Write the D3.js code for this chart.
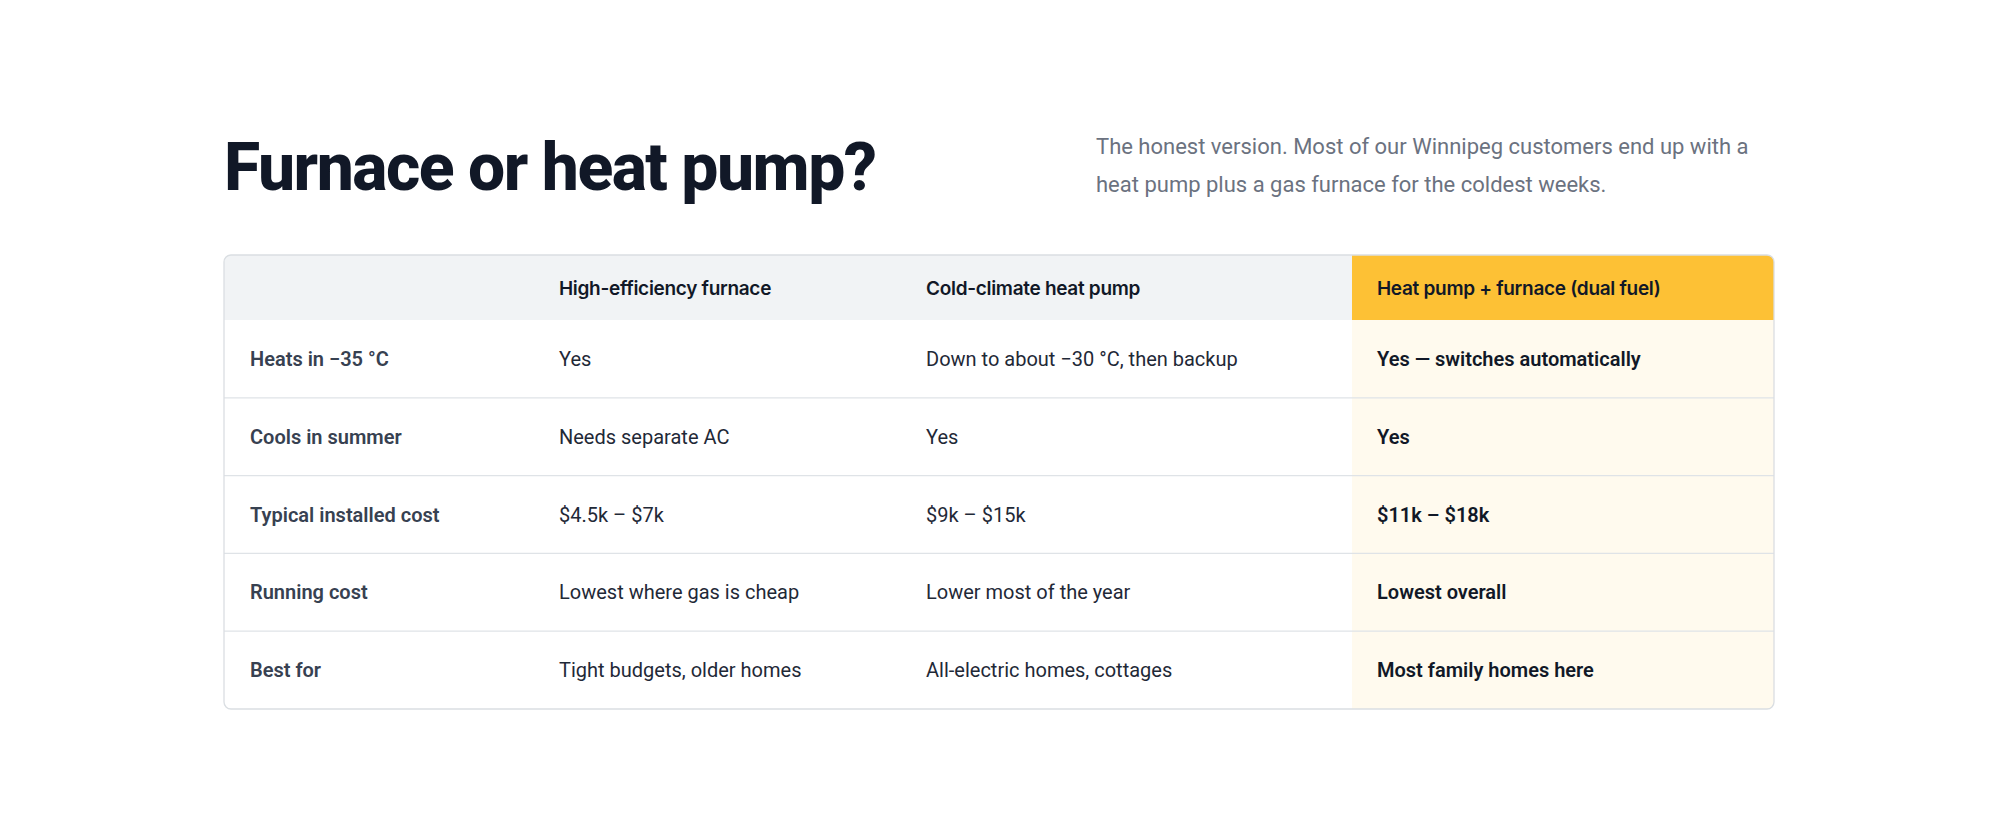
<!DOCTYPE html>
<html><head><meta charset="utf-8">
<script src="https://cdn.jsdelivr.net/npm/d3@7"></script>
<style>body{margin:0;background:#fff}</style>
</head><body>
<svg id="c" width="2000" height="839"></svg>
<script>
const columns = ["", "High-efficiency furnace", "Cold-climate heat pump", "Heat pump + furnace (dual fuel)"];
const rowLabels = ["Heats in \u221235 \u00b0C", "Cools in summer", "Typical installed cost", "Running cost", "Best for"];
const furnace = ["Yes", "Needs separate AC", "$4.5k \u2013 $7k", "Lowest where gas is cheap", "Tight budgets, older homes"];
const heatPump = ["Down to about \u221230 \u00b0C, then backup", "Yes", "$9k \u2013 $15k", "Lower most of the year", "All-electric homes, cottages"];
const dualFuel = ["Yes \u2014 switches automatically", "Yes", "$11k \u2013 $18k", "Lowest overall", "Most family homes here"];

const svg = d3.select("#c");
const L = 224, R = 1774, T = 255, HB = 320, B = 709;
const colEdges = [L, 534, 901, 1352, R];
const colX = d3.scaleOrdinal().domain(d3.range(4)).range(colEdges.slice(0, 4));
const y = d3.scaleBand().domain(d3.range(rowLabels.length)).range([HB, B]);
const font = "Roboto, 'Noto Sans', sans-serif";

// title + subtitle
const title = svg.append("text").attr("x", L).attr("y", 190)
  .attr("font-family", "Roboto").attr("font-weight", 800).attr("font-size", 66)
  .attr("letter-spacing", -1.5).attr("fill", "#111827").text("Furnace or heat pump?");
const tw = title.node().getComputedTextLength();
if (tw > 675) title.attr("textLength", 675).attr("lengthAdjust", "spacingAndGlyphs");

svg.selectAll(".sub").data(["The honest version. Most of our Winnipeg customers end up with a",
  "heat pump plus a gas furnace for the coldest weeks."]).join("text")
  .attr("x", 1096).attr("y", (d, i) => 154 + i * 38)
  .attr("font-family", font).attr("font-size", 22).attr("fill", "#6b7280").text(d => d);

// table frame
const clip = svg.append("defs").append("clipPath").attr("id", "tb");
clip.append("rect").attr("x", L).attr("y", T).attr("width", R - L).attr("height", B - T).attr("rx", 7);
const g = svg.append("g").attr("clip-path", "url(#tb)");
g.append("rect").attr("x", L).attr("y", T).attr("width", R - L).attr("height", HB - T).attr("fill", "#f1f3f5");
g.append("rect").attr("x", colX(3)).attr("y", T).attr("width", R - colX(3)).attr("height", HB - T).attr("fill", "#fdc135");
g.append("rect").attr("x", colX(3)).attr("y", HB).attr("width", R - colX(3)).attr("height", B - HB).attr("fill", "#fffaee");
g.selectAll(".rl").data(d3.range(1, rowLabels.length)).join("line")
  .attr("x1", L).attr("x2", R).attr("y1", d => y(d)).attr("y2", d => y(d))
  .attr("stroke", "#dfe3e7").attr("stroke-width", 1.3);
svg.append("rect").attr("x", L).attr("y", T).attr("width", R - L).attr("height", B - T).attr("rx", 7)
  .attr("fill", "none").attr("stroke", "#dadee2").attr("stroke-width", 1.3);

// header
svg.selectAll(".hd").data(columns.slice(1)).join("text")
  .attr("x", (d, i) => colX(i + 1) + 25).attr("y", (T + HB) / 2 + 7)
  .attr("font-family", "Inter, sans-serif").attr("font-weight", 600).attr("font-size", 19)
  .attr("letter-spacing", -0.3).attr("fill", "#111827").text(d => d);

// body
const cells = [];
rowLabels.forEach((lab, r) => {
  cells.push({r, c: 0, t: lab, w: 600, f: "#374151"});
  cells.push({r, c: 1, t: furnace[r], w: 400, f: "#1f2937"});
  cells.push({r, c: 2, t: heatPump[r], w: 400, f: "#1f2937"});
  cells.push({r, c: 3, t: dualFuel[r], w: 600, f: "#111827"});
});
svg.selectAll(".cell").data(cells).join("text")
  .attr("x", d => colX(d.c) + (d.c === 0 ? 26 : 25))
  .attr("y", d => y(d.r) + y.bandwidth() / 2 + 7)
  .attr("font-family", font).attr("font-size", 20).attr("font-weight", d => d.w)
  .attr("fill", d => d.f).text(d => d.t);
</script>
</body></html>
